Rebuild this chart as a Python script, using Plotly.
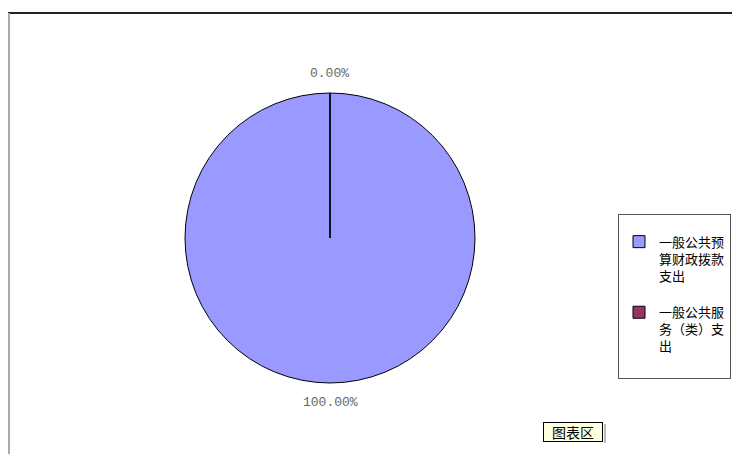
import math
import plotly.graph_objects as go

# Data
categories = ["一般公共预算财政拨款支出", "一般公共服务（类）支出"]
legend_labels = ["一般公共预<br>算财政拨款<br>支出", "一般公共服<br>务（类）支<br>出"]
values = [100, 0]
colors = ["#9999FF", "#993366"]

# The page body has an 8px margin; work in window pixels and offset.
OFF = 8
W, H = 740 - OFF, 454 - OFF


def px(x):
    return (x - OFF) / W


def py(y):
    return 1 - (y - OFF) / H


cx, cy, r = 330, 238, 145  # pie center / radius in window pixels

fig = go.Figure()
fig.add_trace(go.Pie(
    labels=[lbl + "<br> " for lbl in legend_labels],
    values=values,
    marker=dict(colors=colors, line=dict(color="#000000", width=1)),
    textinfo="none",
    hoverinfo="percent",
    sort=False,
    direction="clockwise",
    rotation=0,
    domain=dict(x=[px(cx - r), px(cx + r)], y=[py(cy + r), py(cy - r)]),
    showlegend=True,
))

# percent labels placed outside at each slice's mid-angle
total = sum(values)
start = 90.0
annotations = []
for v in values:
    frac = v / total
    sweep = frac * 360
    mid = start - sweep / 2
    start -= sweep
    d = r + 19
    x = cx + d * math.cos(math.radians(mid))
    y = cy - d * math.sin(math.radians(mid))
    annotations.append(dict(
        x=px(x), y=py(y), xref="paper", yref="paper", showarrow=False,
        xanchor="center", yanchor="middle",
        text=f"{frac*100:.2f}%", font=dict(family="Liberation Mono", size=13, color="#666666"),
    ))

annotations.append(dict(
    x=px(603), y=py(432), xref="paper", yref="paper", xanchor="right", yanchor="middle",
    showarrow=False, text="图表区", bgcolor="#FFFFE1", bordercolor="#000000", borderwidth=1,
    borderpad=1, width=56, height=16, align="center",
    font=dict(family="Noto Sans CJK SC", size=14, color="#000000"),
))

shapes = [
    # radial edge line at slice boundary (top)
    dict(type="line", xref="paper", yref="paper", x0=px(cx), y0=py(cy), x1=px(cx), y1=py(cy - r),
         line=dict(color="#000000", width=1)),
    # chart frame
    dict(type="line", xref="paper", yref="paper", x0=px(8), y0=py(13), x1=1, y1=py(13),
         line=dict(color="#222222", width=2)),
    dict(type="line", xref="paper", yref="paper", x0=px(9), y0=py(13), x1=px(9), y1=0,
         line=dict(color="#AAAAAA", width=2)),
    # tooltip shadow
    dict(type="line", xref="paper", yref="paper", x0=px(605), y0=py(424), x1=px(605), y1=py(443),
         line=dict(color="#BBBBBB", width=2)),
]

fig.update_layout(
    width=W, height=H,
    margin=dict(l=0, r=0, t=0, b=0),
    paper_bgcolor="#FFFFFF",
    plot_bgcolor="#FFFFFF",
    showlegend=True,
    legend=dict(
        x=px(618), y=py(214), xanchor="left", yanchor="top",
        bordercolor="#555555", borderwidth=1, bgcolor="#FFFFFF",
        font=dict(family="Noto Sans CJK SC", size=13, color="#000000"),
        title=dict(text=" ", font=dict(size=9)),
        valign="top",
        itemwidth=30,
        tracegroupgap=0,
    ),
    annotations=annotations,
    shapes=shapes,
)

fig.write_html("out.html")
